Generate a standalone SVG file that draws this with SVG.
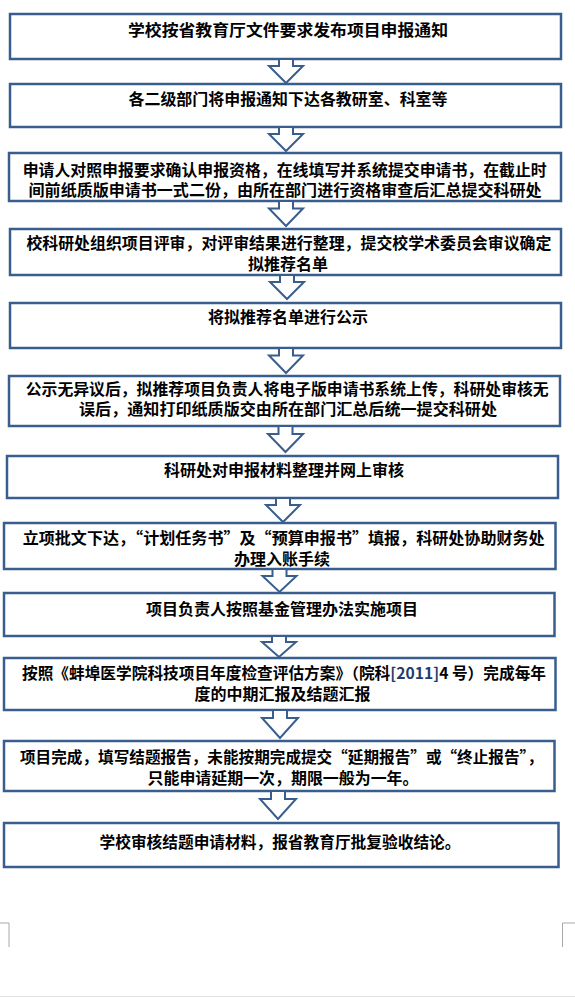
<svg xmlns="http://www.w3.org/2000/svg" width="575" height="997" viewBox="0 0 575 997">
<style>
.box{fill:#fff;stroke:#395E8E;stroke-width:2.5}
.arr{fill:#fff;stroke:#395E8E;stroke-width:2;stroke-linejoin:miter}
.t{font-family:"Noto Sans CJK SC","Liberation Sans",sans-serif;font-size:15.5px;font-weight:bold;fill:#000}
.c{text-anchor:middle}
.mark{stroke:#A8A8A8;stroke-width:1;fill:none}
</style>
<rect width="575" height="997" fill="#fff"/>
<g id="n1"><rect class="box" x="10" y="14" width="551" height="45"/><text class="t c" x="288" y="36" textLength="320" lengthAdjust="spacingAndGlyphs">学校按省教育厅文件要求发布项目申报通知</text></g>
<g id="n2"><rect class="box" x="10" y="84" width="551" height="43"/><text class="t c" x="288" y="105" textLength="319" lengthAdjust="spacingAndGlyphs">各二级部门将申报通知下达各教研室、科室等</text></g>
<g id="n3"><rect class="box" x="9" y="153" width="552" height="48"/><text class="t" x="22.7" y="175.5" textLength="524" lengthAdjust="spacingAndGlyphs">申请人对照申报要求确认申报资格，在线填写并系统提交申请书，在截止时</text><text class="t" x="28.6" y="196" textLength="513" lengthAdjust="spacingAndGlyphs">间前纸质版申请书一式二份，由所在部门进行资格审查后汇总提交科研处</text></g>
<g id="n4"><rect class="box" x="10" y="229" width="551" height="46"/><text class="t" x="26.4" y="249" textLength="525" lengthAdjust="spacingAndGlyphs">校科研处组织项目评审，对评审结果进行整理，提交校学术委员会审议确定</text><text class="t c" x="288" y="270" textLength="80" lengthAdjust="spacingAndGlyphs">拟推荐名单</text></g>
<g id="n5"><rect class="box" x="10" y="303" width="551" height="45"/><text class="t c" x="288" y="322.5" textLength="160" lengthAdjust="spacingAndGlyphs">将拟推荐名单进行公示</text></g>
<g id="n6"><rect class="box" x="9" y="376" width="551" height="50"/><text class="t" x="25.7" y="394.5" textLength="523" lengthAdjust="spacingAndGlyphs">公示无异议后，拟推荐项目负责人将电子版申请书系统上传，科研处审核无</text><text class="t c" x="288" y="415" textLength="418" lengthAdjust="spacingAndGlyphs">误后，通知打印纸质版交由所在部门汇总后统一提交科研处</text></g>
<g id="n7"><rect class="box" x="7" y="456" width="551" height="42"/><text class="t c" x="284" y="476" textLength="240" lengthAdjust="spacingAndGlyphs">科研处对申报材料整理并网上审核</text></g>
<g id="n8"><rect class="box" x="4" y="523" width="551.5" height="46"/><text class="t" x="22.7" y="544" textLength="522" lengthAdjust="spacingAndGlyphs">立项批文下达，“计划任务书”及“预算申报书”填报，科研处协助财务处</text><text class="t c" x="282" y="565" textLength="96" lengthAdjust="spacingAndGlyphs">办理入账手续</text></g>
<g id="n9"><rect class="box" x="4" y="593" width="550.5" height="43"/><text class="t c" x="282" y="615" textLength="272" lengthAdjust="spacingAndGlyphs">项目负责人按照基金管理办法实施项目</text></g>
<g id="n10"><rect class="box" x="4" y="658" width="551.5" height="52"/><text class="t" x="22" y="678.5" textLength="524" lengthAdjust="spacingAndGlyphs">按照《蚌埠医学院科技项目年度检查评估方案》（院科<tspan fill="#1F3B6E">[2011]</tspan>4 号）完成每年</text><text class="t c" x="282.5" y="700" textLength="176" lengthAdjust="spacingAndGlyphs">度的中期汇报及结题汇报</text></g>
<g id="n11"><rect class="box" x="4" y="741" width="550.5" height="50"/><text class="t" x="20" y="763" textLength="523" lengthAdjust="spacingAndGlyphs">项目完成，填写结题报告，未能按期完成提交“延期报告”或“终止报告”，</text><text class="t c" x="283" y="783.5" textLength="271" lengthAdjust="spacingAndGlyphs">只能申请延期一次，期限一般为一年。</text></g>
<g id="n12"><rect class="box" x="4" y="823" width="554.5" height="44"/><text class="t c" x="280" y="848" textLength="361" lengthAdjust="spacingAndGlyphs">学校审核结题申请材料，报省教育厅批复验收结论。</text></g>
<g id="connectors">
<path class="arr" d="M279,59 L293,59 L293,66 L303,66 L286,83 L269,66 L279,66 Z"/>
<path class="arr" d="M279,127 L293,127 L293,134 L303,134 L286,151 L269,134 L279,134 Z"/>
<path class="arr" d="M279,201 L293,201 L293,208.5 L303,208.5 L286,226 L269,208.5 L279,208.5 Z"/>
<path class="arr" d="M280,275 L294,275 L294,282 L304,282 L287,299 L270,282 L280,282 Z"/>
<path class="arr" d="M279,348 L293,348 L293,355.5 L303,355.5 L286,373 L269,355.5 L279,355.5 Z"/>
<path class="arr" d="M278.5,426 L292.5,426 L292.5,434 L303,434 L285.5,452 L268,434 L278.5,434 Z"/>
<path class="arr" d="M276,498 L290,498 L290,505 L300,505 L283,522 L266,505 L276,505 Z"/>
<path class="arr" d="M272.5,569 L286.5,569 L286.5,576 L296.5,576 L279.5,592 L262.5,576 L272.5,576 Z"/>
<path class="arr" d="M272,636 L286,636 L286,642 L296,642 L279,657 L262,642 L272,642 Z"/>
<path class="arr" d="M273,710 L287,710 L287,718 L298,718 L280,738 L262,718 L273,718 Z"/>
<path class="arr" d="M271,791 L285,791 L285,799 L296,799 L278,819 L260,799 L271,799 Z"/>
</g>
<path class="mark" d="M0,923 H9 V947"/>
<path class="mark" d="M575,923 H562.5 V947"/>
<line x1="0" y1="996.5" x2="575" y2="996.5" stroke="#E2E2E2" stroke-width="1"/>
</svg>
